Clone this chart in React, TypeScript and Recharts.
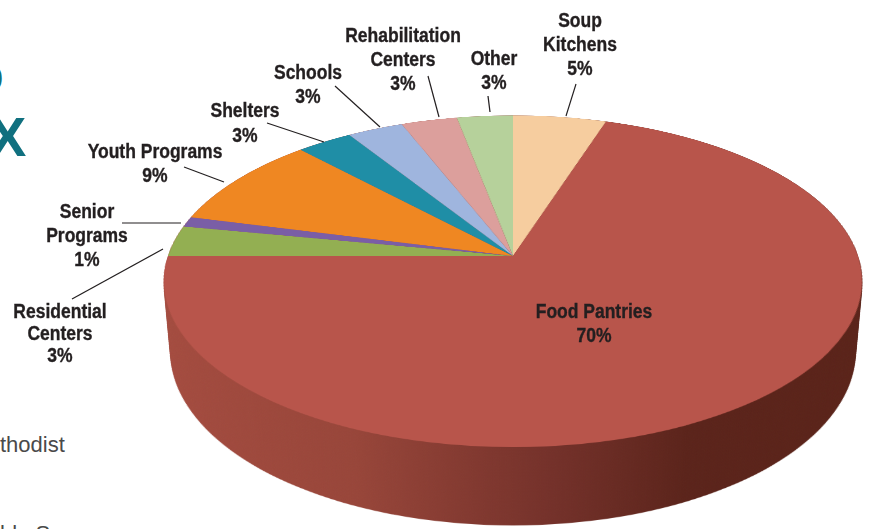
import { PieChart, Pie, Cell } from "recharts";

const categories = [
  "Soup Kitchens",
  "Food Pantries",
  "Residential Centers",
  "Senior Programs",
  "Youth Programs",
  "Shelters",
  "Schools",
  "Rehabilitation Centers",
  "Other",
];
const values = [5, 70, 3, 1, 9, 3, 3, 3, 3];
const colors = [
  "#f6cd9f",
  "#b8554b",
  "#93af52",
  "#7a5ea6",
  "#ef8722",
  "#1f8ea6",
  "#9fb5de",
  "#dc9f9c",
  "#b6d19b",
];

// label text placement: line breaks, centre x, baselines, leader line
const labelLines = [
  ["Soup", "Kitchens", "5%"],
  ["Food Pantries", "70%"],
  ["Residential", "Centers", "3%"],
  ["Senior", "Programs", "1%"],
  ["Youth Programs", "9%"],
  ["Shelters", "3%"],
  ["Schools", "3%"],
  ["Rehabilitation", "Centers", "3%"],
  ["Other", "3%"],
];
const labelX = [580, 594, 60, 87, 155, 245, 308, 403, 494];
const labelY = [
  [27, 51, 75],
  [318, 342],
  [318, 340, 362],
  [218, 242, 266],
  [158, 182],
  [117, 142],
  [79, 103],
  [42, 66, 90],
  [65, 89],
];
const leaders = [
  [576, 84, 566, 116],
  null,
  [163, 249, 72, 299],
  [122, 223, 181, 223],
  [184, 167, 224, 182],
  [267, 123, 324, 142],
  [335, 86, 380, 127],
  [428, 76, 439, 117],
  [488, 96, 490, 112],
];

const data = categories.map((name, i) => ({ name, value: values[i] }));
const wallData = [{ name: "wall", value: 100 }];
const wallDepths = Array.from({ length: 55 }, (_, i) => 81 - i * 1.5);

const SIZE = 720;
const RADIUS = 345;
const noMargin = { top: 0, right: 0, bottom: 0, left: 0 };
const tilt = "perspective(1997px) rotateX(62deg)";
const fontFamily = '"Liberation Sans", sans-serif';

const layer = (extra: string): React.CSSProperties => ({
  position: "absolute",
  left: 153,
  top: -104,
  width: SIZE,
  height: SIZE,
  transformOrigin: "center center",
  transform: `${tilt} ${extra}`,
});

const pageText = (left: number, top: number): React.CSSProperties => ({
  position: "absolute",
  left,
  top,
  fontFamily,
  fontSize: 22,
  color: "#4a4a4a",
  whiteSpace: "nowrap",
});

function renderLabel(props: any) {
  const i = props.index;
  const lead = leaders[i];
  return (
    <g key={i}>
      {lead && (
        <line
          x1={lead[0]}
          y1={lead[1]}
          x2={lead[2]}
          y2={lead[3]}
          stroke="#231f20"
          strokeWidth={1.2}
        />
      )}
      {labelLines[i].map((line, j) => (
        <text
          key={line}
          transform={`translate(${labelX[i]},${labelY[i][j]}) scale(0.875,1)`}
          textAnchor="middle"
          fontFamily={fontFamily}
          fontWeight="bold"
          fontSize={20}
          fill="#231f20"
          stroke="#231f20"
          strokeWidth={0.35}
        >
          {line}
        </text>
      ))}
    </g>
  );
}

export default function App() {
  return (
    <div
      style={{
        position: "absolute",
        left: 0,
        top: 0,
        width: 872,
        height: 529,
        overflow: "hidden",
        background: "#fff",
      }}
    >
      {/* cropped page furniture around the figure */}
      <div style={{ position: "absolute", left: -22, top: 50, fontFamily, fontSize: 46, lineHeight: "50px", color: "#10707f" }}>
        o
      </div>
      <div style={{ position: "absolute", left: -11, top: 105, fontFamily, fontWeight: "bold", fontSize: 56, lineHeight: "64px", color: "#10707f" }}>
        X
      </div>
      <div style={pageText(0, 432)}>thodist</div>
      <div style={pageText(0, 521)}>ble S</div>

      {wallDepths.map((depth) => (
        <div key={depth} style={layer(`translateZ(${-depth}px)`)}>
          <PieChart width={SIZE} height={SIZE} margin={noMargin}>
            <defs>
              <linearGradient id="wallFill" x1="0" y1="0" x2="1" y2="0">
                <stop offset="0%" stopColor="#a54c40" />
                <stop offset="30%" stopColor="#98463a" />
                <stop offset="55%" stopColor="#74312a" />
                <stop offset="72%" stopColor="#5b241b" />
                <stop offset="100%" stopColor="#5a2319" />
              </linearGradient>
            </defs>
            <Pie
              data={wallData}
              dataKey="value"
              cx={SIZE / 2}
              cy={SIZE / 2}
              outerRadius={RADIUS}
              stroke="none"
              fill="url(#wallFill)"
              isAnimationActive={false}
            />
          </PieChart>
        </div>
      ))}

      <div style={layer("")}>
        <PieChart width={SIZE} height={SIZE} margin={noMargin}>
          <Pie
            data={data}
            dataKey="value"
            cx={SIZE / 2}
            cy={SIZE / 2}
            outerRadius={RADIUS}
            startAngle={90}
            endAngle={-270}
            stroke="none"
            isAnimationActive={false}
          >
            {data.map((d, i) => (
              <Cell key={d.name} fill={colors[i]} />
            ))}
          </Pie>
        </PieChart>
      </div>

      <div style={{ position: "absolute", left: 0, top: 0 }}>
        <PieChart width={872} height={529} margin={noMargin}>
          <Pie
            data={data}
            dataKey="value"
            cx={513}
            cy={256}
            outerRadius={1}
            startAngle={90}
            endAngle={-270}
            fill="none"
            stroke="none"
            label={renderLabel}
            labelLine={false}
            isAnimationActive={false}
          />
        </PieChart>
      </div>
    </div>
  );
}
